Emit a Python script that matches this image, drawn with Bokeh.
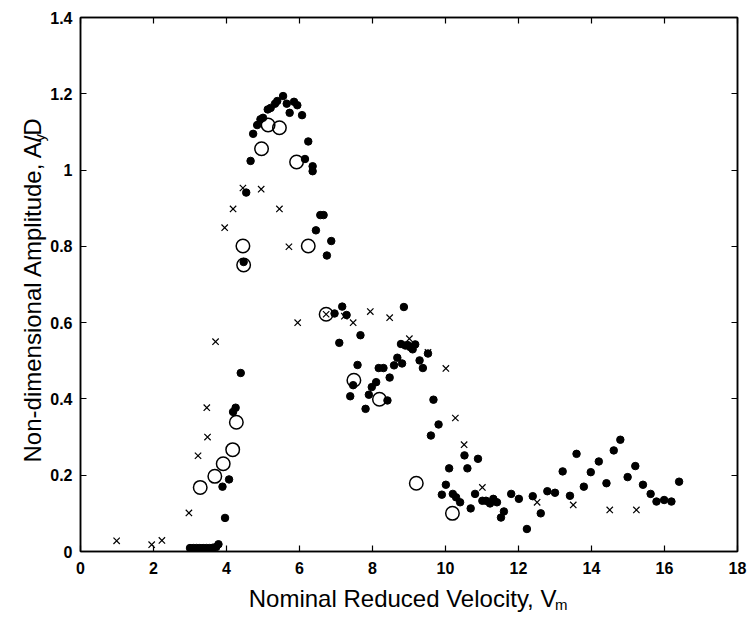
import math
from bokeh.plotting import figure
from bokeh.models import Range1d, FixedTicker, LinearAxis, Label
from bokeh.embed import file_html
from bokeh.resources import INLINE

# ---- data ----
dots_x = [3.00, 3.09, 3.18, 3.27, 3.36, 3.45, 3.54, 3.63, 3.72, 3.78,
          3.96, 3.89, 4.07, 4.18, 4.25, 4.39, 4.47, 4.54,
          4.66, 4.73, 4.84, 4.93, 5.00, 5.13, 5.21, 5.33, 5.39, 5.55, 5.65, 5.73,
          5.85, 5.94, 6.07, 6.24, 6.15, 6.36, 6.36, 6.57, 6.66, 6.45, 6.87, 6.75,
          6.96, 7.17, 7.29, 7.09, 7.67, 7.59, 7.47, 7.39, 7.81, 7.90, 7.98, 8.10,
          8.17, 8.30, 8.41, 8.47, 8.59, 8.68, 8.81, 8.78, 8.86, 8.90, 8.97, 9.03,
          9.10, 9.17, 9.29, 9.38, 9.52,
          9.67, 9.81, 9.60, 10.10, 10.01, 9.90, 10.20, 10.29, 10.40, 10.52, 10.60,
          10.69, 10.81, 10.89, 11.01, 11.11, 11.22, 11.31, 11.41, 11.52, 11.60,
          11.80, 12.01, 12.23, 12.39, 12.61, 12.79, 13.00, 13.21, 13.41, 13.59,
          13.79, 13.98, 14.20, 14.41, 14.61, 14.79, 14.99, 15.20, 15.41, 15.62,
          15.78, 15.99, 16.19, 16.40]
dots_y = [0.009, 0.009, 0.009, 0.009, 0.009, 0.009, 0.009, 0.010, 0.012, 0.019,
          0.088, 0.170, 0.189, 0.366, 0.377, 0.468, 0.759, 0.941,
          1.024, 1.095, 1.118, 1.133, 1.137, 1.159, 1.163, 1.174, 1.181, 1.194, 1.174, 1.150,
          1.179, 1.170, 1.144, 1.075, 1.029, 1.010, 0.997, 0.882, 0.882, 0.842, 0.814, 0.776,
          0.624, 0.642, 0.620, 0.547, 0.567, 0.489, 0.436, 0.407, 0.374, 0.411, 0.431, 0.444,
          0.481, 0.481, 0.396, 0.456, 0.488, 0.508, 0.493, 0.544, 0.641, 0.540, 0.541, 0.536,
          0.530, 0.543, 0.501, 0.481, 0.519,
          0.398, 0.333, 0.304, 0.218, 0.175, 0.149, 0.151, 0.142, 0.129, 0.252, 0.218,
          0.113, 0.151, 0.243, 0.133, 0.133, 0.126, 0.138, 0.129, 0.089, 0.105,
          0.151, 0.138, 0.059, 0.145, 0.100, 0.158, 0.154, 0.210, 0.146, 0.256,
          0.170, 0.208, 0.236, 0.179, 0.265, 0.293, 0.195, 0.224, 0.175, 0.151,
          0.131, 0.135, 0.131, 0.183]

circ_x = [3.28, 3.68, 3.91, 4.17, 4.27, 4.45, 4.47, 4.96, 5.14, 5.45, 5.92,
          6.24, 6.73, 7.49, 8.19, 9.20, 10.19]
circ_y = [0.168, 0.197, 0.230, 0.267, 0.339, 0.801, 0.751, 1.056, 1.118, 1.111, 1.021,
          0.801, 0.622, 0.449, 0.399, 0.179, 0.100]

cross_x = [0.99, 1.95, 2.23, 2.97, 3.22, 3.48, 3.46, 3.70, 3.95, 4.18, 4.45, 4.95,
           5.45, 5.71, 5.95, 6.73, 7.23, 7.47, 7.94, 8.47, 9.01, 9.52, 10.01, 10.27,
           10.51, 11.01, 12.51, 13.50, 14.50, 15.23]
cross_y = [0.028, 0.018, 0.029, 0.101, 0.251, 0.300, 0.377, 0.550, 0.849, 0.898, 0.953, 0.950,
           0.898, 0.799, 0.600, 0.622, 0.617, 0.600, 0.629, 0.613, 0.558, 0.522, 0.480, 0.350,
           0.280, 0.168, 0.129, 0.122, 0.109, 0.109]

x_ticks = [0, 2, 4, 6, 8, 10, 12, 14, 16, 18]
y_ticks = [0, 0.2, 0.4, 0.6, 0.8, 1.0, 1.2, 1.4]
y_tick_labels = ["0", "0.2", "0.4", "0.6", "0.8", "1", "1.2", "1.4"]

x_title = "Nominal Reduced Velocity, V"
x_title_sub = "m"
y_title = "Non-dimensional Amplitude, A/D"
y_title_sub = "y"

# ---- figure ----
p = figure(width=747, height=617, output_backend="svg", toolbar_location=None,
           x_range=Range1d(0, 18), y_range=Range1d(0, 1.4),
           min_border_left=80, min_border_right=10, min_border_top=17, min_border_bottom=66)
p.grid.visible = False
p.outline_line_color = "black"
p.outline_line_width = 1.5
p.background_fill_color = "white"
p.border_fill_color = "white"

def style(ax, show_labels):
    ax.axis_line_color = "black"
    ax.axis_line_width = 1.5
    ax.major_tick_in = 6
    ax.major_tick_out = 0
    ax.minor_tick_in = 0
    ax.minor_tick_out = 0
    ax.major_tick_line_color = "black"
    ax.major_tick_line_width = 1.2
    if show_labels:
        ax.major_label_text_font = "Liberation Sans"
        ax.major_label_text_font_style = "bold"
        ax.major_label_text_font_size = "16px"
        ax.major_label_text_color = "black"
    else:
        ax.major_label_text_color = None
        ax.major_label_text_font_size = "1px"
        ax.major_label_standoff = 0
        ax.axis_label_standoff = 0

p.xaxis.ticker = FixedTicker(ticks=x_ticks)
p.yaxis.ticker = FixedTicker(ticks=y_ticks)
p.yaxis.major_label_overrides = {t: s for t, s in zip(y_ticks, y_tick_labels)}
style(p.xaxis[0], True)
style(p.yaxis[0], True)
p.xaxis.major_label_standoff = 10
p.yaxis.major_label_standoff = 8

top_ax = LinearAxis(ticker=FixedTicker(ticks=x_ticks))
right_ax = LinearAxis(ticker=FixedTicker(ticks=y_ticks))
style(top_ax, False)
style(right_ax, False)
p.add_layout(top_ax, "above")
p.add_layout(right_ax, "right")

# ---- markers ----
p.scatter(dots_x, dots_y, marker="circle", size=7.5, fill_color="black", line_color="black")
p.scatter(circ_x, circ_y, marker="circle", size=13.5, fill_color=None, line_color="black", line_width=1.5)
p.scatter(cross_x, cross_y, marker="x", size=9, line_color="black", line_width=1.2)

# ---- axis titles with subscripts: labels live in side panels (not clipped),
#      anchored through the plot's own scales ----
FONT = "Liberation Sans"
common = dict(text_font=FONT, text_color="black", text_baseline="alphabetic")
p.add_layout(Label(x=13.04, y=-0.123, text=x_title, text_align="right",
                   text_font_size="24px", **common), "below")
p.add_layout(Label(x=-1.315, y=0.688, text=y_title, text_align="center", angle=math.pi / 2,
                   text_font_size="24px", **common), "left")
p.add_layout(Label(x=-1.110, y=1.075, text=y_title_sub, text_align="left", angle=math.pi / 2,
                   text_font_size="15px", **common), "below")
p.add_layout(Label(x=13.00, y=-0.139, text=x_title_sub, text_align="left",
                   text_font_size="15px", **common), "left")

open("out.html", "w").write(file_html(p, INLINE))
